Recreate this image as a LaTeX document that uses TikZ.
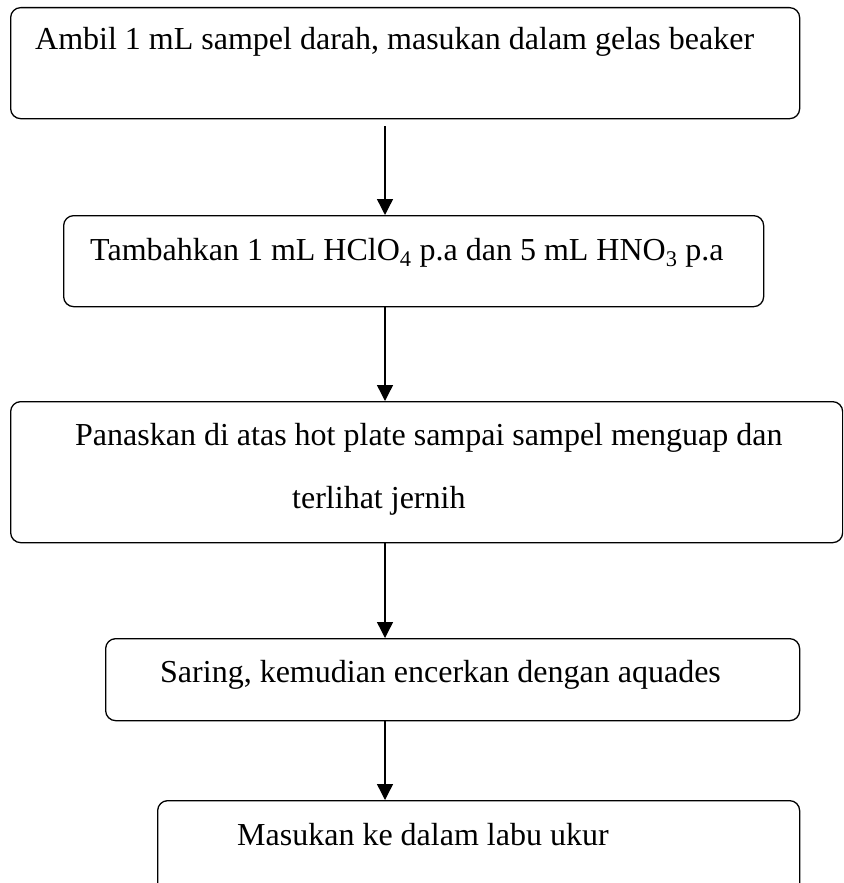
\documentclass[tikz,border=0pt]{standalone}
\usepackage{fontspec}
\setmainfont{Liberation Serif}
\usetikzlibrary{
  positioning,
  arrows.meta,
  calc
}

\begin{document}
\begin{tikzpicture}[
  x=1pt, y=-1pt,
  font=\fontsize{32}{38}\selectfont,
  stepbox/.style={draw, rectangle, rounded corners=10pt, line width=1.3pt, inner sep=0pt, anchor=north west},
  steptext/.style={anchor=base west, inner sep=0pt},
  arrow/.style={-{Triangle[width=16pt,length=16pt]}, line width=1.4pt}
]
\clip (0,0) rectangle (843,883);

% Nodes
\node[stepbox, minimum width=789pt, minimum height=111pt] (ambil) at (10,7) {};
\node[stepbox, minimum width=700pt, minimum height=91pt] (tambah) at (63,215) {};
\node[stepbox, minimum width=832pt, minimum height=141pt] (panas) at (10,401) {};
\node[stepbox, minimum width=694pt, minimum height=82pt] (saring) at (105,638) {};
\node[stepbox, minimum width=642pt, minimum height=110pt] (labu) at (157,800) {};

% Texts
\node[steptext] (ambiltxt) at (35,50) {Ambil 1 mL sampel darah, masukan dalam gelas beaker};
\node[steptext] (tambahtxt) at (90,260) {Tambahkan 1 mL HClO\textsubscript{4} p.a dan 5 mL HNO\textsubscript{3} p.a};
\node[steptext] (panastxt) at (75,445) {Panaskan di atas hot plate sampai sampel menguap dan};
\node[steptext] (panastxtb) at (292,508) {terlihat jernih};
\node[steptext] (saringtxt) at (160,682) {Saring, kemudian encerkan dengan aquades};
\node[steptext] (labutxt) at (237,845) {Masukan ke dalam labu ukur};

% Arrows
\coordinate (axis) at (385,0);
\draw[arrow, shorten <=7pt] (ambil.south -| axis) -- (tambah.north -| axis);
\draw[arrow] (tambah.south -| axis) -- (panas.north -| axis);
\draw[arrow] (panas.south -| axis) -- (saring.north -| axis);
\draw[arrow] (saring.south -| axis) -- (labu.north -| axis);

\end{tikzpicture}
\end{document}
